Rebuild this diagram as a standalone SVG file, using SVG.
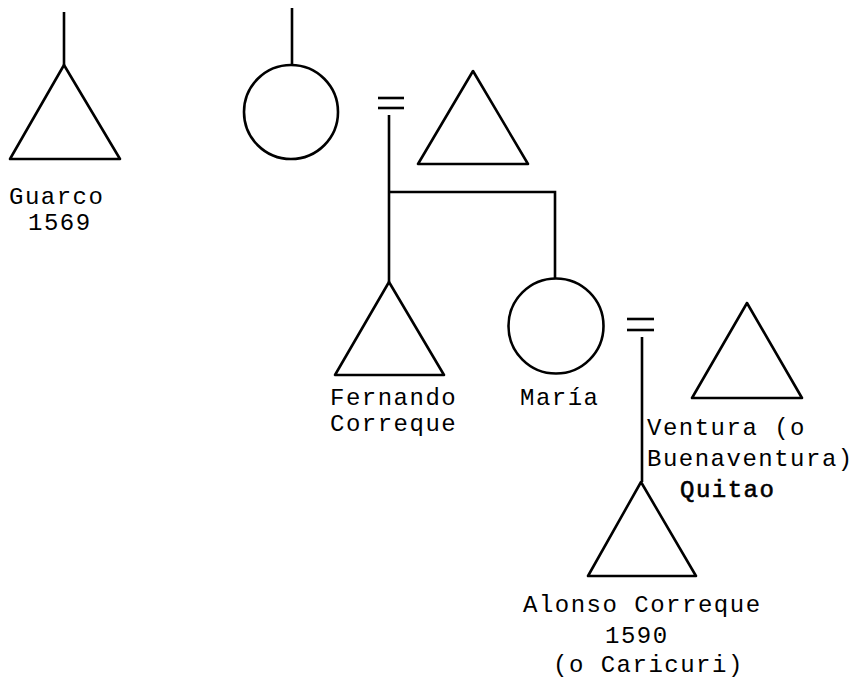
<svg xmlns="http://www.w3.org/2000/svg" width="854" height="680" viewBox="0 0 854 680">
<style>
.s{fill:none;stroke:#000;stroke-width:2.6;stroke-linejoin:round}
.l{stroke:#000;stroke-width:2.6;fill:none}
text{font-family:"Liberation Mono","Courier New",monospace;font-size:24px;letter-spacing:1.5px;fill:#000}
.b{stroke:#000;stroke-width:0.6}
</style>
<rect width="854" height="680" fill="#fff"/>
<g id="connectors">
<line class="l" x1="64" y1="12" x2="64" y2="65"/>
<line class="l" x1="292" y1="8" x2="292" y2="65"/>
<line class="l" x1="378" y1="98" x2="404" y2="98"/>
<line class="l" x1="378" y1="108" x2="404" y2="108"/>
<line class="l" x1="389" y1="115" x2="389" y2="282"/>
<polyline class="l" points="389,192 555,192 555,279"/>
<line class="l" x1="627" y1="319" x2="654" y2="319"/>
<line class="l" x1="627" y1="330" x2="654" y2="330"/>
<line class="l" x1="642" y1="337" x2="642" y2="482"/>
</g>
<g id="guarco">
<polygon class="s" points="64,65 10,159 120,159"/>
<text x="9" y="204">Guarco</text>
<text x="28" y="230">1569</text>
</g>
<g id="mother">
<circle class="s" cx="291" cy="112" r="47"/>
</g>
<g id="husband">
<polygon class="s" points="473,71 418,164 528,164"/>
</g>
<g id="fernando">
<polygon class="s" points="389,282 335,375 444,375"/>
<text x="330" y="405">Fernando</text>
<text x="330" y="431">Correque</text>
</g>
<g id="maria">
<circle class="s" cx="556" cy="326" r="47.5"/>
<text x="520" y="405">María</text>
</g>
<g id="ventura">
<polygon class="s" points="747,303 692,398 802,398"/>
<text x="647" y="435">Ventura (o</text>
<text x="647" y="466">Buenaventura)</text>
<text x="680" y="497" class="b">Quitao</text>
</g>
<g id="alonso">
<polygon class="s" points="641,482 588,576 696,576"/>
<text x="523" y="612">Alonso Correque</text>
<text x="605" y="643">1590</text>
<text x="553" y="672">(o Caricuri)</text>
</g>
</svg>
